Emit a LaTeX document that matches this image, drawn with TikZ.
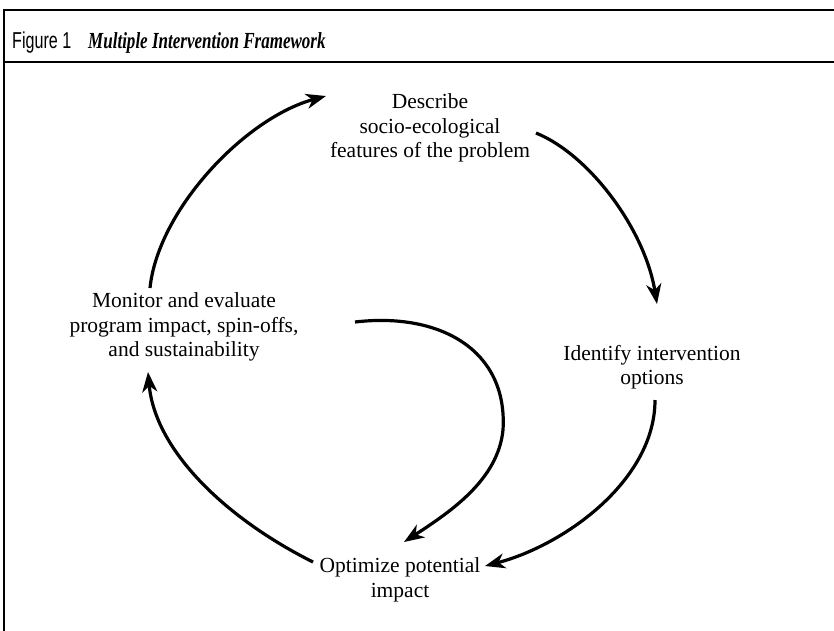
\documentclass[tikz,border=0pt]{standalone}
\usepackage{fontspec}
\setmainfont{Liberation Serif}
\newfontfamily\figsans[FakeStretch=0.7]{Liberation Sans}
\newfontfamily\titlefont[FakeStretch=0.74]{Liberation Serif}
\usetikzlibrary{arrows.meta}
\begin{document}
\begin{tikzpicture}[x=1pt,y=-1pt,
  lbl/.style={align=center,font=\fontsize{21.5}{24.5}\selectfont,inner sep=0pt},
  flow/.style={line width=3.2pt,-{Stealth[length=20pt,width=15pt,inset=6pt]}},
  frame/.style={line width=2.6pt}]
\useasboundingbox (0,0) rectangle (834,630);
\draw[frame] (4,631) -- (4,10) -- (835,10);
\draw[frame] (4,62) -- (835,62);
\node[anchor=base west,inner sep=0pt] (fig) at (12,48) {\figsans\fontsize{23}{26}\selectfont Figure 1};
\node[anchor=base west,inner sep=0pt] (title) at (88,48) {\titlefont\fontsize{23}{26}\selectfont\bfseries\itshape Multiple Intervention Framework};

\node[lbl] (desc) at (430,128) {Describe\\socio-ecological\\features of the problem};
\node[lbl] (ident) at (652,367) {Identify intervention\\options};
\node[lbl] (opt) at (400,580) {Optimize potential\\impact};
\node[lbl] (mon) at (184,327) {Monitor and evaluate\\program impact, spin-offs,\\and sustainability};

\coordinate (a1s) at (150,288);
\coordinate (a1e) at (326,96);
\coordinate (a2s) at (536,133);
\coordinate (a2e) at (657,304);
\coordinate (a3s) at (655,400);
\coordinate (a3e) at (485,566);
\coordinate (a4s) at (313,562);
\coordinate (a4e) at (148,372);
\coordinate (a5s) at (355,322);
\coordinate (a5m) at (503,430);
\coordinate (a5e) at (404,542);

\draw[flow] (a1s) .. controls (158,210) and (245,118) .. (a1e);
\draw[flow] (a2s) .. controls (590,155) and (645,230) .. (a2e);
\draw[flow] (a3s) .. controls (655,480) and (565,545) .. (a3e);
\draw[flow] (a4s) .. controls (225,518) and (155,450) .. (a4e);
\draw[flow] (a5s) .. controls (440,312) and (508,350) .. (a5m) .. controls (498,480) and (450,512) .. (a5e);
\end{tikzpicture}
\end{document}
